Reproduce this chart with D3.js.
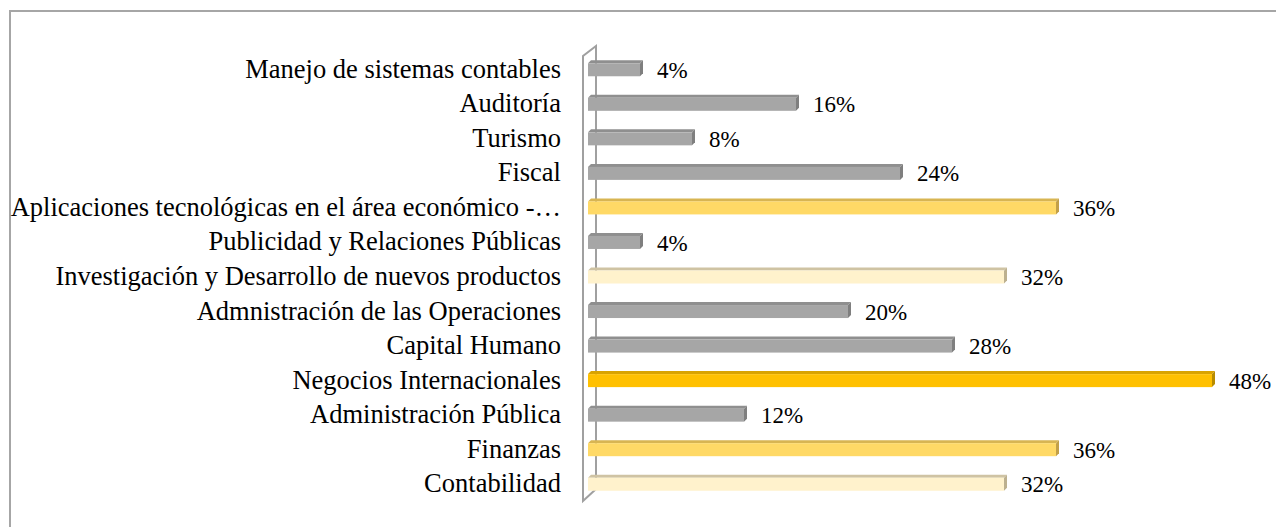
<!DOCTYPE html>
<html>
<head>
<meta charset="utf-8">
<script src="https://cdn.jsdelivr.net/npm/d3@7"></script>
<style>
  body { margin: 0; background: #fff; }
  text { font-family: "Liberation Serif", "Times New Roman", serif; }
</style>
</head>
<body>
<svg width="1276" height="527"></svg>
<script>
// data, top to bottom
var categories = [
  "Manejo de sistemas contables",
  "Auditoría",
  "Turismo",
  "Fiscal",
  "Aplicaciones tecnológicas en el área económico -…",
  "Publicidad y Relaciones Públicas",
  "Investigación y Desarrollo de nuevos productos",
  "Admnistración de las Operaciones",
  "Capital Humano",
  "Negocios Internacionales",
  "Administración Pública",
  "Finanzas",
  "Contabilidad"
];
var values = [4, 16, 8, 24, 36, 4, 32, 20, 28, 48, 12, 36, 32];

var svg = d3.select("svg"),
    width = +svg.attr("width"),
    height = +svg.attr("height");

// chart frame (cropped at right / bottom)
svg.append("path")
  .attr("d", "M10,540 L10,11 L1290,11")
  .attr("fill", "none")
  .attr("stroke", "#a6a6a6")
  .attr("stroke-width", 2);

var y = d3.scaleBand()
  .domain(categories)
  .range([52, 501]);

var x = d3.scaleLinear()
  .domain([0, 48])
  .range([588, 1212]);

var depth = 3;

// colour by value
var colour = d3.scaleThreshold()
  .domain([30, 34, 40])
  .range([
    { front: "#a6a6a6", top: "#8f8f8f", side: "#7f7f7f" },
    { front: "#fff2cc", top: "#cfc3a3", side: "#bcb08f" },
    { front: "#ffd966", top: "#d8b552", side: "#c2a048" },
    { front: "#ffc000", top: "#d9a300", side: "#b88c00" }
  ]);

// wall
var wx0 = 583, wx1 = 596;
svg.append("path")
  .attr("d", "M" + wx0 + ",501 L" + wx0 + ",56 L" + wx1 + ",46 L" + wx1 + ",489 Z")
  .attr("fill", "none")
  .attr("stroke", "#a0a0a0")
  .attr("stroke-width", 2);

var bh = 13;
var g = svg.append("g");

var rows = g.selectAll("g.bar")
  .data(categories.map(function(c, i) { return { name: c, value: values[i] }; }))
  .enter()
  .append("g")
    .attr("class", "bar");

rows.each(function(d) {
  var sel = d3.select(this);
  var c = colour(d.value);
  var y0 = y(d.name) + y.bandwidth() / 2 - 6,
      y1 = y0 + bh,
      x0 = x(0),
      x1 = x(d.value);

  sel.append("path")
    .attr("d", "M" + x0 + "," + y0 + " L" + (x0 + depth) + "," + (y0 - depth) +
               " L" + (x1 + depth) + "," + (y0 - depth) + " L" + x1 + "," + y0 + " Z")
    .attr("fill", c.top);

  sel.append("path")
    .attr("d", "M" + x1 + "," + y0 + " L" + (x1 + depth) + "," + (y0 - depth) +
               " L" + (x1 + depth) + "," + (y1 - depth) + " L" + x1 + "," + y1 + " Z")
    .attr("fill", c.side);

  sel.append("rect")
    .attr("x", x0)
    .attr("y", y0)
    .attr("width", x1 - x0)
    .attr("height", bh)
    .attr("fill", c.front);

  sel.append("text")
    .attr("x", x1 + depth + 14)
    .attr("y", y(d.name) + y.bandwidth() / 2 + 1)
    .attr("dy", "0.33em")
    .attr("font-size", 23)
    .attr("fill", "#000")
    .text(d.value + "%");
});

// category labels
svg.append("g")
  .selectAll("text")
  .data(categories)
  .enter()
  .append("text")
    .attr("x", 561)
    .attr("y", function(d) { return y(d) + y.bandwidth() / 2; })
    .attr("dy", "0.32em")
    .attr("text-anchor", "end")
    .attr("font-size", 26.5)
    .attr("fill", "#000")
    .text(function(d) { return d; });
</script>
</body>
</html>
